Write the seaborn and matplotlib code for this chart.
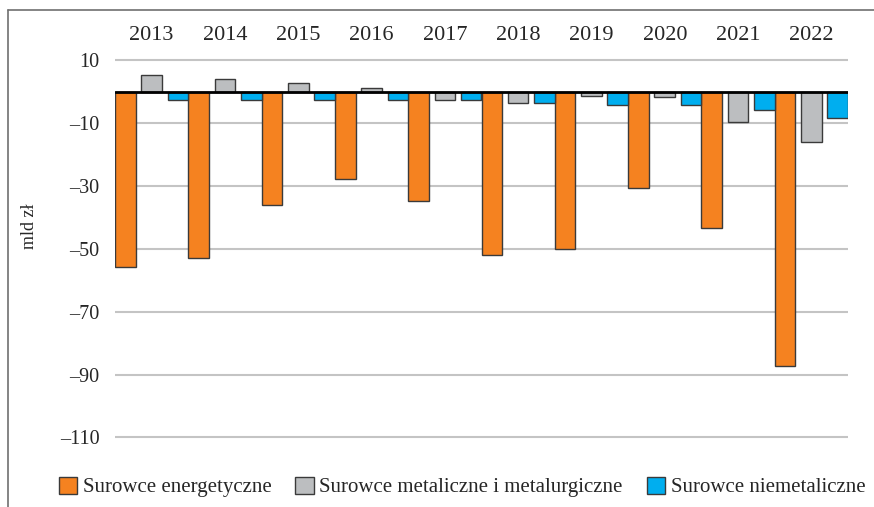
import matplotlib
matplotlib.use("Agg")
import matplotlib.pyplot as plt
from matplotlib.lines import Line2D
import seaborn as sns
import pandas as pd

years = ["2013", "2014", "2015", "2016", "2017", "2018", "2019", "2020", "2021", "2022"]
series_names = ["Surowce energetyczne", "Surowce metaliczne i metalurgiczne", "Surowce niemetaliczne"]
energetyczne = [-55.7, -53.0, -36.1, -27.8, -34.9, -51.9, -49.9, -30.6, -43.2, -87.1]
metaliczne = [5.2, 4.1, 2.7, 1.1, -2.6, -3.5, -1.5, -1.8, -9.5, -16.1]
niemetaliczne = [-2.5, -2.5, -2.6, -2.7, -2.5, -3.5, -4.1, -4.2, -5.7, -8.2]
y_ticks = [10, -10, -30, -50, -70, -90, -110]
y_label = "mld zł"

colors = {series_names[0]: "#F58220", series_names[1]: "#BCBEC0", series_names[2]: "#00AEEF"}

rows = []
for name, vals in zip(series_names, [energetyczne, metaliczne, niemetaliczne]):
    for y, v in zip(years, vals):
        rows.append({"rok": y, "seria": name, "wartosc": v})
df = pd.DataFrame(rows)

sns.set_style("white")
plt.rcParams["font.family"] = ["Liberation Serif", "DejaVu Serif"]

W, H = 874, 507
fig = plt.figure(figsize=(W / 100, H / 100), dpi=100)
ppu = 3.14
top_px, bot_px = 60.3 - ppu, 437.5 + ppu
ax = fig.add_axes([115 / W, 1 - bot_px / H, (848 - 115) / W, (bot_px - top_px) / H])

sns.barplot(data=df, x="rok", y="wartosc", hue="seria", hue_order=series_names,
            order=years, palette=colors, saturation=1, width=1.077, gap=0.215,
            edgecolor="#3a3a3a", linewidth=1.0, ax=ax, zorder=3)

ax.set_xlim(-0.5, 9.5)
ax.set_ylim(-111, 11)
ax.set_yticks(y_ticks)
ax.set_yticklabels([str(t).replace("-", "–") for t in y_ticks], fontsize=14.5)
ax.yaxis.grid(True, color="#c4c4c4", linewidth=1.5, zorder=0)
ax.xaxis.grid(False)
ax.axhline(0, color="black", linewidth=2, zorder=4)
for s in ax.spines.values():
    s.set_visible(False)
ax.tick_params(axis="y", length=0, pad=11)
ax.xaxis.tick_top()
ax.tick_params(axis="x", length=0, pad=9, labelsize=16)
ax.set_xlabel("")
ax.set_ylabel(y_label, fontsize=13)
ax.yaxis.set_label_coords((38 - 115) / (848 - 115), (bot_px - 226) / (bot_px - top_px))

handles, labels = ax.get_legend_handles_labels()
if ax.get_legend() is not None:
    ax.get_legend().remove()
fig.legend(handles, labels, loc="center", bbox_to_anchor=(462 / W, 1 - 487 / H),
           ncol=3, frameon=False, fontsize=15, handlelength=0.9, handleheight=0.9,
           handletextpad=0.25, columnspacing=1.15, borderaxespad=0)

fig.add_artist(Line2D([8 / W, 8 / W], [0, 1 - 10 / H], transform=fig.transFigure,
                      color="#707070", linewidth=1.2))
fig.add_artist(Line2D([8 / W, 1], [1 - 10 / H, 1 - 10 / H], transform=fig.transFigure,
                      color="#707070", linewidth=1.2))

fig.savefig("out.png", dpi=100)
